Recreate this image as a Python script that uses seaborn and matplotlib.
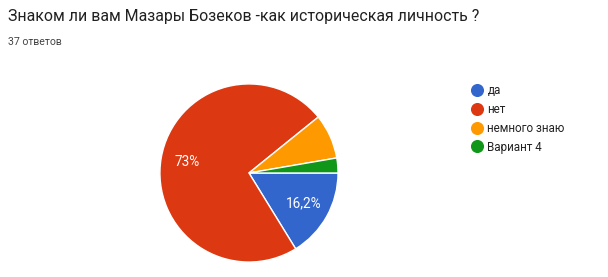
import matplotlib
matplotlib.use("Agg")
import matplotlib.pyplot as plt
import seaborn as sns
from matplotlib.lines import Line2D

title = "Знаком ли вам Мазары Бозеков -как историческая личность ?"
subtitle = "37 ответов"
categories = ["да", "нет", "немного знаю", "Вариант 4"]
counts = [6, 27, 3, 1]
colors = ["#3366CC", "#DC3912", "#FF9900", "#109618"]

sns.set_theme(style="white")
plt.rcParams["font.family"] = ["Roboto", "DejaVu Sans"]

fig = plt.figure(figsize=(6.08, 2.77), dpi=100)
fig.patch.set_facecolor("white")

palette = sns.color_palette(colors)

ax = fig.add_axes([0.263, 0.054, 0.293, 0.643])

def fmt(p):
    if p < 10:
        return ""
    s = f"{p:.1f}".replace(".", ",")
    if s.endswith(",0"):
        s = s[:-2]
    return s + "%"

wedges, texts, autotexts = ax.pie(
    counts, colors=palette, startangle=0, counterclock=False,
    autopct=fmt, pctdistance=0.7,
    wedgeprops=dict(edgecolor="white", linewidth=1),
    textprops=dict(color="white", fontsize=9.8),
)
ax.set_xlim(-1, 1)
ax.set_ylim(-1, 1)
ax.set_aspect("equal")

fig.text(8 / 608, 1 - 17 / 277, title, fontsize=11.4, color="#212121",
         va="center", ha="left")
fig.text(8 / 608, 1 - 42 / 277, subtitle, fontsize=7.6, color="#444444",
         va="center", ha="left")

handles = [Line2D([0], [0], marker="o", linestyle="", markersize=8.4,
                  markerfacecolor=c, markeredgecolor=c) for c in colors]
fig.legend(handles, categories, loc="upper left",
           bbox_to_anchor=(471 / 608, 1 - 84 / 277), frameon=False,
           fontsize=8.4, handletextpad=0.4, labelspacing=0.5,
           handlelength=1.0, borderpad=0, borderaxespad=0,
           labelcolor="#222222")

fig.savefig("out.png", dpi=100, facecolor="white")
